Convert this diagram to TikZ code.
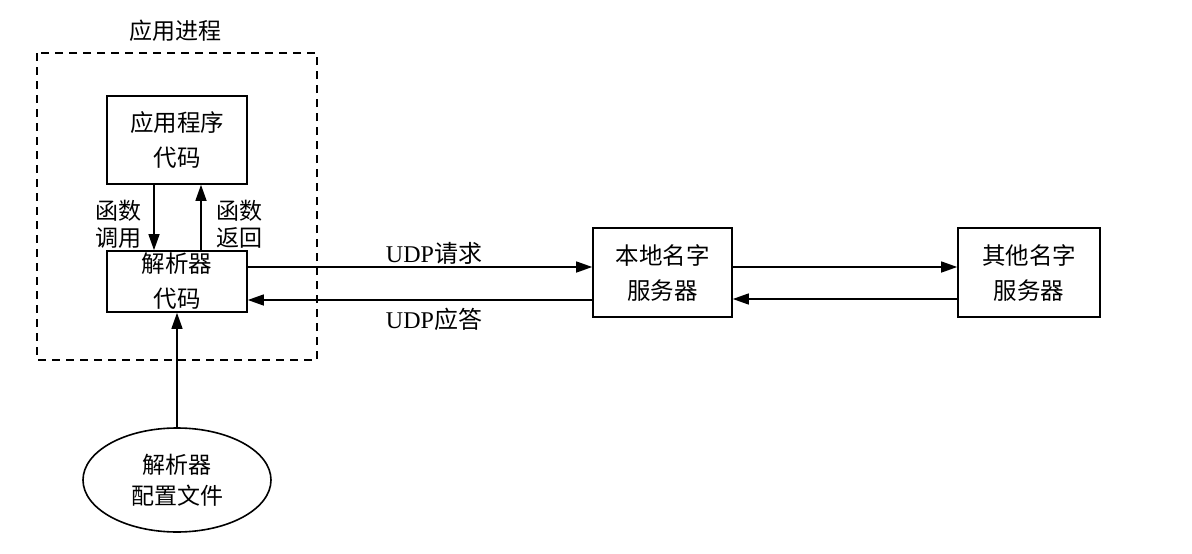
\documentclass[tikz,border=0pt]{standalone}
\usepackage{fontspec}
\setmainfont{Liberation Serif}
\newfontfamily\cjk{Noto Sans CJK SC}
\usetikzlibrary{arrows.meta,shapes.geometric}
\begin{document}
\begin{tikzpicture}[x=1pt,y=-1pt,
  box/.style={draw, line width=1.6pt, inner sep=0pt, align=center, font=\cjk\fontsize{23.5}{35}\selectfont},
  lbl/.style={inner sep=0pt, align=center, font=\cjk\fontsize{23}{27}\selectfont},
  udp/.style={inner sep=0pt, font=\fontsize{24}{28}\selectfont},
  arr/.style={-{Triangle[length=16pt,width=11pt]}, line width=1.4pt},
  procbox/.style={draw, line width=1.5pt, dash pattern=on 8pt off 6pt}]
\useasboundingbox (0,0) rectangle (1192,554);
\fill[white] (0,0) rectangle (1192,554);
% dashed process frame
\draw[procbox] (37,53) rectangle (317,360);
\node[lbl] (proc) at (175,31) {应用进程};
% boxes
\node[box, minimum width=140pt, minimum height=88pt] (app) at (177,140) {应用程序\\代码};
\node[box, minimum width=140pt, minimum height=61pt] (res) at (177,281.5) {解析器\\代码};
\node[box, minimum width=139pt, minimum height=89pt] (local) at (662.5,272.5) {本地名字\\服务器};
\node[box, minimum width=142pt, minimum height=89pt] (other) at (1029,272.5) {其他名字\\服务器};
\node[draw, ellipse, line width=1.6pt, inner sep=0pt, minimum width=188pt, minimum height=104pt, align=center, font=\cjk\fontsize{23}{31}\selectfont] (cfg) at (177,480) {解析器\\配置文件};
% call / return
\draw[arr] ([xshift=-23pt]app.south) -- ([xshift=-23pt]res.north);
\draw[arr] ([xshift=24pt]res.north) -- ([xshift=24pt]app.south);
\node[lbl] (call) at (118,224) {函数\\调用};
\node[lbl] (ret) at (239,224) {函数\\返回};
% config
\draw[arr] (cfg.north) -- (res.south);
% UDP
\draw[arr] (res.east |- 0,267) -- (local.west |- 0,267);
\draw[arr] (local.west |- 0,300) -- (res.east |- 0,300);
\node[udp] (req) at (434,253) {UDP{\cjk 请求}};
\node[udp] (rep) at (434,319) {UDP{\cjk 应答}};
% servers
\draw[arr] (local.east |- 0,267) -- (other.west |- 0,267);
\draw[arr] (other.west |- 0,299) -- (local.east |- 0,299);
\end{tikzpicture}
\end{document}
